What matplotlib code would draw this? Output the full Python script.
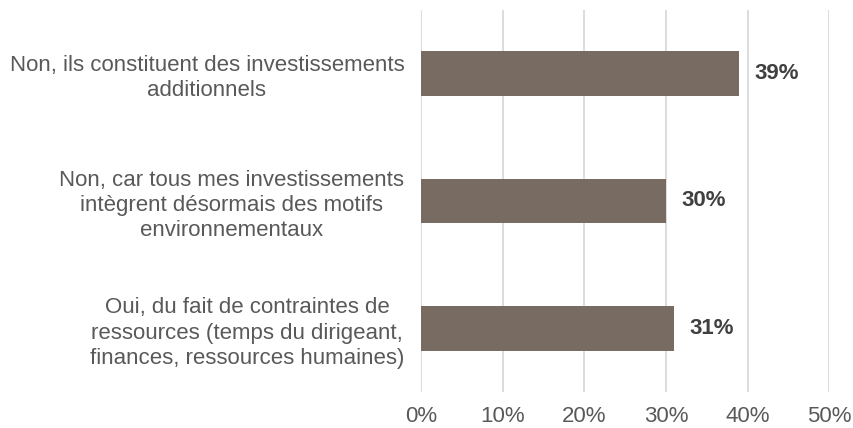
import matplotlib
matplotlib.use('Agg')
import matplotlib.pyplot as plt
from matplotlib.ticker import FuncFormatter

plt.rcParams['font.family'] = ['Liberation Sans', 'DejaVu Sans']

categories = [
    "Non, ils constituent des investissements\nadditionnels",
    "Non, car tous mes investissements\nintègrent désormais des motifs\nenvironnementaux",
    "Oui, du fait de contraintes de\nressources (temps du dirigeant,\nfinances, ressources humaines)",
]
values = [39, 30, 31]
xticks = [0, 10, 20, 30, 40, 50]

bar_color = '#786C62'
grid_color = '#D9D9D9'
text_color = '#595959'

fig = plt.figure(figsize=(8.54, 4.28), dpi=100)
ax = fig.add_axes([0.493, 0.084, 0.478, 0.893])

ypos = list(range(len(categories)))
ax.barh(ypos, values, height=0.35, color=bar_color, zorder=3)
ax.set_ylim(len(categories) - 0.5, -0.5)
ax.set_xlim(0, 50)
ax.set_xticks(xticks)
ax.xaxis.set_major_formatter(FuncFormatter(lambda v, p: '%d%%' % v))
ax.grid(axis='x', color=grid_color, linewidth=1.3, zorder=0)
ax.set_axisbelow(True)

for s in ax.spines.values():
    s.set_visible(False)

ax.set_yticks(ypos)
ax.set_yticklabels(categories, fontsize=16, color=text_color, linespacing=1.27)
for lbl in ax.get_yticklabels():
    lbl.set_multialignment('center')
ax.tick_params(axis='y', length=0, pad=12)
ax.tick_params(axis='x', length=0, pad=10, labelsize=16, labelcolor=text_color)

for y, v in zip(ypos, values):
    ax.annotate('%d%%' % v, (v, y), xytext=(11, 0), textcoords='offset points',
                va='center', ha='left', fontsize=16, fontweight='bold', color='#404040')

fig.savefig('out.png', dpi=100)
